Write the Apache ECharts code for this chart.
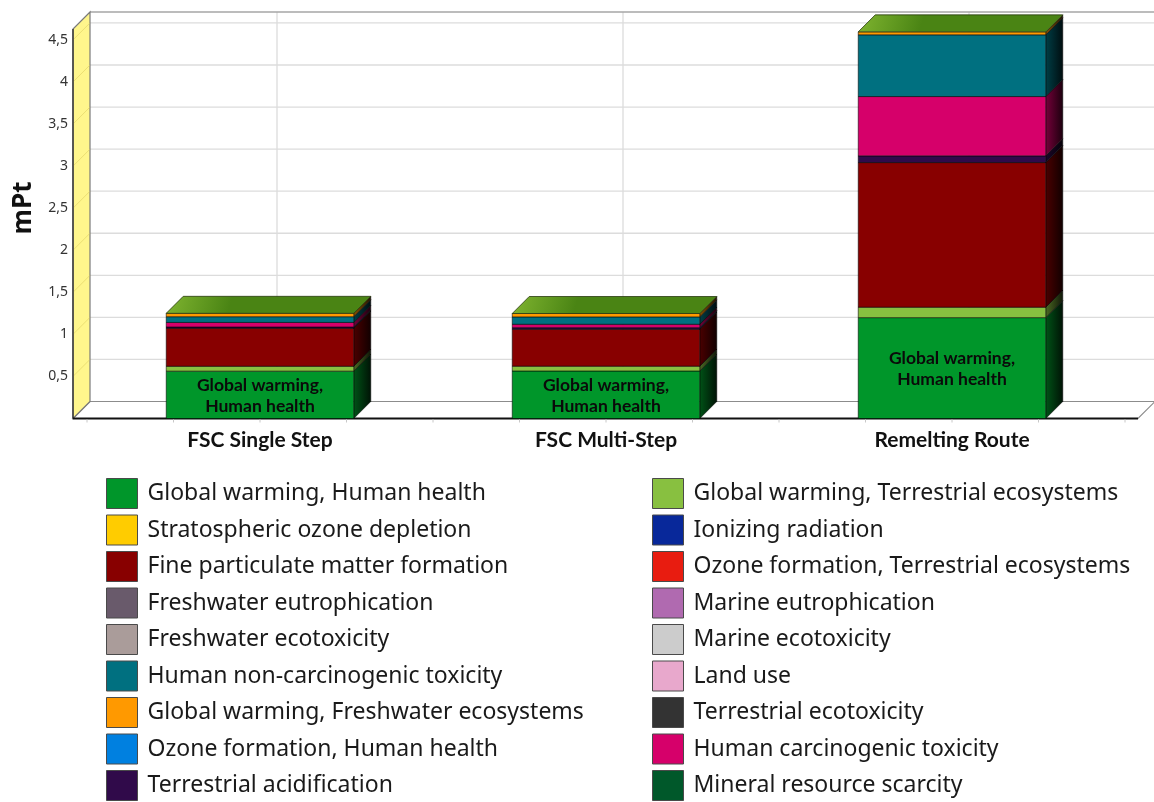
<!DOCTYPE html>
<html>
<head>
<meta charset="utf-8">
<title>mPt by impact category</title>
<script src="https://cdn.jsdelivr.net/npm/echarts@6/dist/echarts.min.js"></script>
<style>
  html, body { margin: 0; padding: 0; background: #ffffff; }
  #chart { width: 1154px; height: 802px; }
</style>
</head>
<body>
<div id="chart"></div>
<script>
// Routes compared
const categories = ['FSC Single Step', 'FSC Multi-Step', 'Remelting Route'];

// Single score per impact category, mPt (Single Step, Multi-Step, Remelting)
const globalWarmingHumanHealth        = [0.563, 0.565, 1.199];
const globalWarmingTerrestrial        = [0.058, 0.057, 0.124];
const stratosphericOzoneDepletion     = [0, 0, 0];
const ionizingRadiation               = [0, 0, 0];
const ozoneFormationHumanHealth       = [0, 0, 0];
const fineParticulateMatter           = [0.452, 0.440, 1.719];
const ozoneFormationTerrestrial       = [0, 0, 0];
const terrestrialAcidification        = [0.015, 0.018, 0.080];
const freshwaterEutrophication        = [0, 0, 0];
const marineEutrophication            = [0, 0, 0];
const terrestrialEcotoxicity          = [0, 0, 0];
const freshwaterEcotoxicity           = [0, 0, 0];
const marineEcotoxicity               = [0, 0, 0];
const humanCarcinogenicToxicity       = [0.054, 0.040, 0.705];
const humanNonCarcinogenicToxicity    = [0.068, 0.088, 0.734];
const landUse                         = [0, 0, 0];
const mineralResourceScarcity         = [0, 0, 0];
const globalWarmingFreshwater         = [0.040, 0.040, 0.035];

// Value axis ticks
const yTickValues = [0.5, 1, 1.5, 2, 2.5, 3, 3.5, 4, 4.5];

// Stack order, bottom to top
const layers = [
  { name: 'Global warming, Human health',            values: globalWarmingHumanHealth,     color: '#00962a' },
  { name: 'Global warming, Terrestrial ecosystems',  values: globalWarmingTerrestrial,     color: '#88c040' },
  { name: 'Stratospheric ozone depletion',           values: stratosphericOzoneDepletion,  color: '#ffcc00' },
  { name: 'Ionizing radiation',                      values: ionizingRadiation,            color: '#08289a' },
  { name: 'Ozone formation, Human health',           values: ozoneFormationHumanHealth,    color: '#0080e0' },
  { name: 'Fine particulate matter formation',       values: fineParticulateMatter,        color: '#880000' },
  { name: 'Ozone formation, Terrestrial ecosystems', values: ozoneFormationTerrestrial,    color: '#e81c10' },
  { name: 'Terrestrial acidification',               values: terrestrialAcidification,     color: '#300a4a' },
  { name: 'Freshwater eutrophication',               values: freshwaterEutrophication,     color: '#695a6b' },
  { name: 'Marine eutrophication',                   values: marineEutrophication,         color: '#b06ab0' },
  { name: 'Terrestrial ecotoxicity',                 values: terrestrialEcotoxicity,       color: '#333333' },
  { name: 'Freshwater ecotoxicity',                  values: freshwaterEcotoxicity,        color: '#aa9c9a' },
  { name: 'Marine ecotoxicity',                      values: marineEcotoxicity,            color: '#cccccc' },
  { name: 'Human carcinogenic toxicity',             values: humanCarcinogenicToxicity,    color: '#d6006a' },
  { name: 'Human non-carcinogenic toxicity',         values: humanNonCarcinogenicToxicity, color: '#007080' },
  { name: 'Land use',                                values: landUse,                      color: '#e8a8cc' },
  { name: 'Mineral resource scarcity',               values: mineralResourceScarcity,      color: '#00582a' },
  { name: 'Global warming, Freshwater ecosystems',   values: globalWarmingFreshwater,      color: '#ff9900' }
];

// Legend columns, read row by row
const legendLeft = [
  'Global warming, Human health',
  'Stratospheric ozone depletion',
  'Fine particulate matter formation',
  'Freshwater eutrophication',
  'Freshwater ecotoxicity',
  'Human non-carcinogenic toxicity',
  'Global warming, Freshwater ecosystems',
  'Ozone formation, Human health',
  'Terrestrial acidification'
];
const legendRight = [
  'Global warming, Terrestrial ecosystems',
  'Ionizing radiation',
  'Ozone formation, Terrestrial ecosystems',
  'Marine eutrophication',
  'Marine ecotoxicity',
  'Land use',
  'Terrestrial ecotoxicity',
  'Human carcinogenic toxicity',
  'Mineral resource scarcity'
];

const DEPTH = 17;          // 3D depth offset in px (45 degrees)
const BAR_RATIO = 0.542;   // front face width relative to the category band

function shade(hex, f) {
  const n = parseInt(hex.slice(1), 16);
  const r = Math.round(((n >> 16) & 255) * f);
  const g = Math.round(((n >> 8) & 255) * f);
  const b = Math.round((n & 255) * f);
  return 'rgb(' + r + ',' + g + ',' + b + ')';
}

function topLayerIndex(cat) {
  let top = -1;
  layers.forEach((l, k) => { if (l.values[cat] > 0) top = k; });
  return top;
}

// Walls, floor and grid of the 3D frame
function renderFrame(params, api) {
  const cs = params.coordSys;
  const d = DEPTH;
  const xL = cs.x - 14, xR = cs.x + cs.width + 13;
  const yT = cs.y, yB = cs.y + cs.height;
  const children = [];
  // back wall
  children.push({ type: 'rect', shape: { x: xL + d, y: yT - d, width: xR - xL, height: yB - yT },
    style: { fill: '#ffffff' } });
  // horizontal grid lines on back wall
  yTickValues.forEach(v => {
    const y = api.coord([0, v])[1];
    children.push({ type: 'line', shape: { x1: xL + d, y1: y - d, x2: xR + d, y2: y - d },
      style: { stroke: '#dcdcdc', lineWidth: 1.3 } });
  });
  // vertical grid lines behind each category centre
  categories.forEach((c, i) => {
    const x = api.coord([i, 0])[0];
    children.push({ type: 'line', shape: { x1: x + d, y1: yT - d, x2: x + d, y2: yB - d },
      style: { stroke: '#dcdcdc', lineWidth: 1.3 } });
  });
  // top border of back wall
  children.push({ type: 'line', shape: { x1: xL + d, y1: yT - d, x2: xR + d + 40, y2: yT - d },
    style: { stroke: '#a6a6a6', lineWidth: 1.6 } });
  // floor
  children.push({ type: 'polygon', shape: { points: [[xL, yB], [xR, yB], [xR + d, yB - d], [xL + d, yB - d]] },
    style: { fill: '#ffffff', stroke: '#8c8c8c', lineWidth: 1.2 } });
  // left wall
  children.push({ type: 'polygon', shape: { points: [[xL, yB], [xL, yT], [xL + d, yT - d], [xL + d, yB - d]] },
    style: { fill: '#fff68c', stroke: '#7a7a7a', lineWidth: 1.2 } });
  yTickValues.forEach(v => {
    const y = api.coord([0, v])[1];
    children.push({ type: 'line', shape: { x1: xL, y1: y, x2: xL + d, y2: y - d },
      style: { stroke: 'rgba(215,200,90,0.5)', lineWidth: 1 } });
  });
  // front edges
  children.push({ type: 'line', shape: { x1: xL, y1: yT, x2: xL, y2: yB },
    style: { stroke: '#333333', lineWidth: 1.4 } });
  children.push({ type: 'line', shape: { x1: xL, y1: yB, x2: xR, y2: yB },
    style: { stroke: '#111111', lineWidth: 1.8 } });
  // small ticks along the floor edge
  for (let k = 0; k <= 12; k++) {
    const x = cs.x + k * cs.width / 12;
    children.push({ type: 'line', shape: { x1: x, y1: yB + 1, x2: x, y2: yB + 4 },
      style: { stroke: '#c8c8c8', lineWidth: 1 } });
  }
  return { type: 'group', children: children };
}

function makeLayerRender(k) {
  const layer = layers[k];
  return function (params, api) {
    const i = params.dataIndex;
    const v = layer.values[i];
    if (!(v > 0)) return null;
    let base = 0;
    for (let j = 0; j < k; j++) base += layers[j].values[i];
    const pB = api.coord([i, base]);
    const pT = api.coord([i, base + v]);
    const bw = api.size([1, 0])[0] * BAR_RATIO;
    const xl = pB[0] - bw / 2, xr = xl + bw;
    const yb = pB[1], yt = pT[1];
    const d = DEPTH;
    const children = [];
    children.push({
      type: 'polygon',
      shape: { points: [[xr, yb], [xr + d, yb - d], [xr + d, yt - d], [xr, yt]] },
      style: {
        fill: new echarts.graphic.LinearGradient(0, 0, 1, 0, [
          { offset: 0, color: shade(layer.color, 0.55) },
          { offset: 1, color: shade(layer.color, 0.12) }
        ]),
        stroke: 'rgba(0,0,0,0.8)', lineWidth: 0.7
      }
    });
    children.push({
      type: 'rect',
      shape: { x: xl, y: yt, width: bw, height: yb - yt },
      style: { fill: layer.color, stroke: 'rgba(0,0,0,0.8)', lineWidth: 0.7 }
    });
    if (topLayerIndex(i) === k) {
      children.push({
        type: 'polygon',
        shape: { points: [[xl, yt], [xr, yt], [xr + d, yt - d], [xl + d, yt - d]] },
        style: {
          fill: new echarts.graphic.LinearGradient(0, 0, 0.3, 1, [
            { offset: 0, color: '#80b530' },
            { offset: 1, color: '#4a8414' }
          ]),
          stroke: '#2a3a10', lineWidth: 0.8
        }
      });
    }
    if (k === 0) {
      children.push({
        type: 'text',
        style: {
          text: 'Global warming,\nHuman health',
          x: (xl + xr) / 2, y: (yb + yt) / 2 + 1,
          align: 'center', verticalAlign: 'middle',
          font: 'bold 17.5px Lato', lineHeight: 21, fill: '#0a0a0a'
        }
      });
    }
    return { type: 'group', children: children };
  };
}

const series = [{
  type: 'custom',
  name: '__frame',
  silent: true,
  z: 1,
  data: [[0, 0]],
  renderItem: renderFrame
}].concat(layers.map((layer, k) => ({
  type: 'custom',
  name: layer.name,
  z: 2,
  itemStyle: { color: layer.color },
  data: categories.map((c, i) => [i, layer.values[i]]),
  encode: { x: 0, y: 1 },
  renderItem: makeLayerRender(k)
})));

const legendCommon = {
  orient: 'vertical',
  top: 478,
  height: 360,
  padding: 0,
  icon: 'rect',
  itemWidth: 31,
  itemHeight: 30,
  itemGap: 5.5,
  selectedMode: false,
  itemStyle: { borderColor: '#4a4a4a', borderWidth: 1 },
  textStyle: { fontFamily: 'Noto Sans', fontSize: 23, lineHeight: 30, color: '#1a1a1a', padding: [0, 0, 0, 5] }
};

const chart = echarts.init(document.getElementById('chart'), null, { renderer: 'canvas' });
chart.setOption({
  animation: false,
  backgroundColor: '#ffffff',
  grid: { left: 87, right: 29, top: 29, bottom: 383.5, containLabel: false },
  xAxis: {
    type: 'category',
    data: categories,
    axisLine: { show: false },
    axisTick: { show: false },
    splitLine: { show: false },
    axisLabel: { margin: 11, fontFamily: 'Lato', fontWeight: 'bold', fontSize: 21, color: '#111111' }
  },
  yAxis: {
    type: 'value',
    min: 0,
    max: 4.63,
    interval: 0.5,
    axisLine: { show: false },
    axisTick: { show: false },
    splitLine: { show: false },
    axisLabel: {
      margin: 19,
      showMaxLabel: false,
      fontFamily: 'Noto Sans', fontSize: 14, color: '#333333',
      formatter: v => (v === 0 ? '' : String(v).replace('.', ','))
    }
  },
  legend: [
    Object.assign({ left: 106, data: legendLeft }, legendCommon),
    Object.assign({ left: 652, data: legendRight }, legendCommon)
  ],
  graphic: [{
    type: 'text',
    x: 24, y: 208,
    rotation: Math.PI / 2,
    style: { text: 'mPt', font: 'bold 26px "Open Sans"', fill: '#111111', align: 'center', verticalAlign: 'middle' }
  }],
  series: series
});
</script>
</body>
</html>
